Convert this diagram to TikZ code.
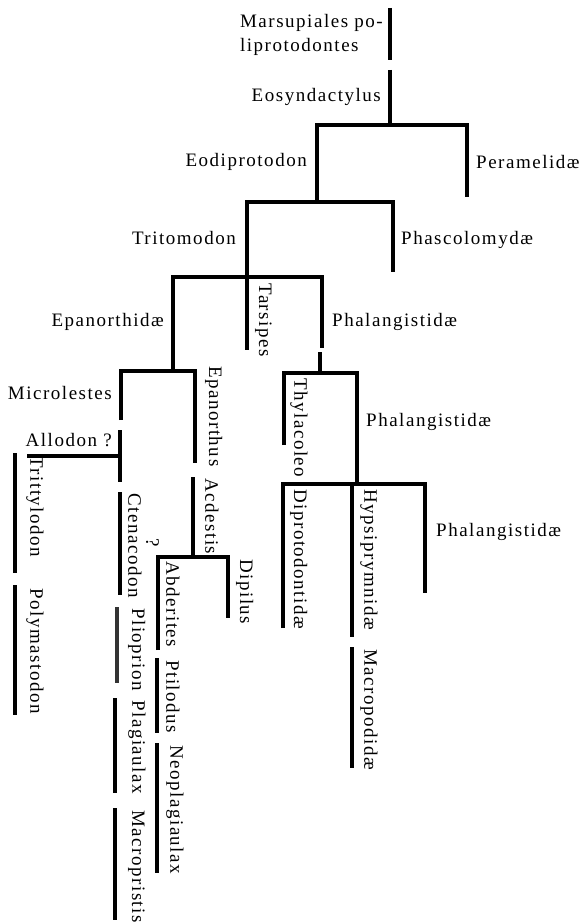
\documentclass[tikz,border=0pt]{standalone}
\usepackage{fontspec}
\setmainfont{Liberation Serif}[LetterSpace=8]
\usetikzlibrary{calc}

\begin{document}
\begin{tikzpicture}[
  x=1pt, y=-1pt,
  font=\fontsize{19}{24}\selectfont,
  br/.style={line width=4.6pt, black},
  lbl/.style={inner sep=0pt, align=left},
  vlbl/.style={inner sep=0pt, rotate=-90, anchor=south west},
]
\useasboundingbox (0,0) rectangle (584,923);

% --- Branch points ---
\coordinate (j1) at (390,125);
\coordinate (j2) at (317,202);
\coordinate (j3) at (247,277);
\coordinate (j4) at (173,371);
\coordinate (j5) at (320,373);
\coordinate (j6) at (193,557);
\coordinate (j7) at (357,484);

% --- Stem ---
\coordinate (marsT) at (390,8);
\coordinate (marsB) at (390,60);
\coordinate (eosT)  at (390,70);
\draw[br] (marsT) -- (marsB);
\draw[br] (eosT) -- (j1);
\node[lbl, anchor=east] (mars) at (383,35) {Marsupiales po-\\liprotodontes};
\node[lbl, anchor=east] (eos)  at (381,97) {Eosyndactylus};

% --- Eodiprotodon / Peramelidae ---
\coordinate (peraB) at (467,197);
\draw[br] (j2) |- (j1) -| (peraB);
\node[lbl, anchor=east] (eodi) at (307,162) {Eodiprotodon};
\node[lbl, anchor=west] (pera) at (476,162) {Peramelidæ};

% --- Tritomodon / Phascolomydae ---
\coordinate (phasB) at (393,272);
\draw[br] (j3) |- (j2) -| (phasB);
\node[lbl, anchor=east] (trit) at (236,238) {Tritomodon};
\node[lbl, anchor=west] (phas) at (401,240) {Phascolomydæ};

% --- Epanorthidae / Tarsipes / Phalangistidae ---
\coordinate (tarsB)  at (247,350);
\coordinate (phalA)  at (322,348);
\coordinate (phalB)  at (320,352);
\draw[br] (j4) |- (j3) -| (phalA);
\draw[br] (j3) -- (tarsB);
\draw[br] (phalB) -- (j5);
\node[lbl, anchor=east] (epan) at (164,322) {Epanorthidæ};
\node[vlbl] (tars) at (255,283) {Tarsipes};
\node[lbl, anchor=west] (phal) at (332,322) {Phalangistidæ};

% --- Microlestes line ---
\coordinate (micB)  at (121,420);
\coordinate (allT)  at (120,430);
\coordinate (allB)  at (120,482);
\coordinate (eporB) at (195,463);
\draw[br] (micB) |- (j4) -| (eporB);
\draw[br] (allT) -- (allB);
\node[lbl, anchor=east] (micr) at (112,393) {Microlestes};
\node[vlbl] (epor) at (205,366) {Epanorthus};

% --- Allodon ---
\coordinate (allL) at (27,456);
\coordinate (allR) at (118,456);
\draw[br] (allL) -- (allR);
\node[lbl, anchor=east] (allo) at (112,440) {Allodon ?};
\foreach \t/\b/\name/\txt in {453/573/trit/Trittylodon, 585/715/poly/Polymastodon}{
  \draw[br] (15,\t) coordinate (\name T) -- (15,\b) coordinate (\name B);
  \node[vlbl] (\name L) at ($(\name T)+(11,3)$) {\txt};
}

% --- Ctenacodon ... Macropristis ---
\draw[br] (120,492) coordinate (cteT) -- (120,595) coordinate (cteB);
\draw[br, black!80] (117,607) coordinate (pliT) -- (117,683) coordinate (pliB);
\draw[br] (115,698) coordinate (plaT) -- (115,793) coordinate (plaB);
\draw[br] (115,808) coordinate (macT) -- (115,920) coordinate (macB);
\node[vlbl] (cten) at (128,493) {Ctenacodon};
\node[vlbl] (plio) at (128,608) {Plioprion};
\node[vlbl] (plag) at (128,700) {Plagiaulax};
\node[vlbl] (macr) at (128,810) {Macropristis};

% --- Acdestis / Abderites / Dipilus ---
\coordinate (acdT) at (193,477);
\coordinate (abdB) at (158,650);
\coordinate (dipB) at (228,618);
\draw[br] (acdT) -- (j6);
\draw[br] (abdB) |- (j6) -| (dipB);
\node[vlbl] (acde) at (205,478) {Acdestis};
\node[vlbl] (ques) at (146,538) {?};
\node[vlbl] (abde) at (166,561) {Abderites};
\node[vlbl] (dipi) at (236,559) {Dipilus};
\draw[br] (157,658) coordinate (ptiT) -- (157,733) coordinate (ptiB);
\draw[br] (157,743) coordinate (neoT) -- (157,873) coordinate (neoB);
\node[vlbl] (ptil) at (166,660) {Ptilodus};
\node[vlbl] (neop) at (166,745) {Neoplagiaulax};

% --- Thylacoleo / Phalangistidae ---
\coordinate (thyB) at (284,445);
\draw[br] (thyB) |- (j5) -| (j7);
\node[vlbl] (thyl) at (290,378) {Thylacoleo};
\node[lbl, anchor=west] (pha2) at (366,422) {Phalangistidæ};

% --- Diprotodontidae / Hypsiprymnidae / Phalangistidae ---
\coordinate (dipr) at (283,628);
\coordinate (hypB) at (352,637);
\coordinate (pha3B) at (425,593);
\draw[br] (dipr) |- (j7) -| (pha3B);
\draw[br] (352,484) -- (hypB);
\draw[br] (352,647) coordinate (macrT) -- (352,768) coordinate (macrB);
\node[vlbl] (dipt) at (290,489) {Diprotodontidæ};
\node[vlbl] (hyps) at (360,489) {Hypsiprymnidæ};
\node[vlbl] (macp) at (360,649) {Macropodidæ};
\node[lbl, anchor=west] (pha3) at (436,532) {Phalangistidæ};

\end{tikzpicture}
\end{document}
